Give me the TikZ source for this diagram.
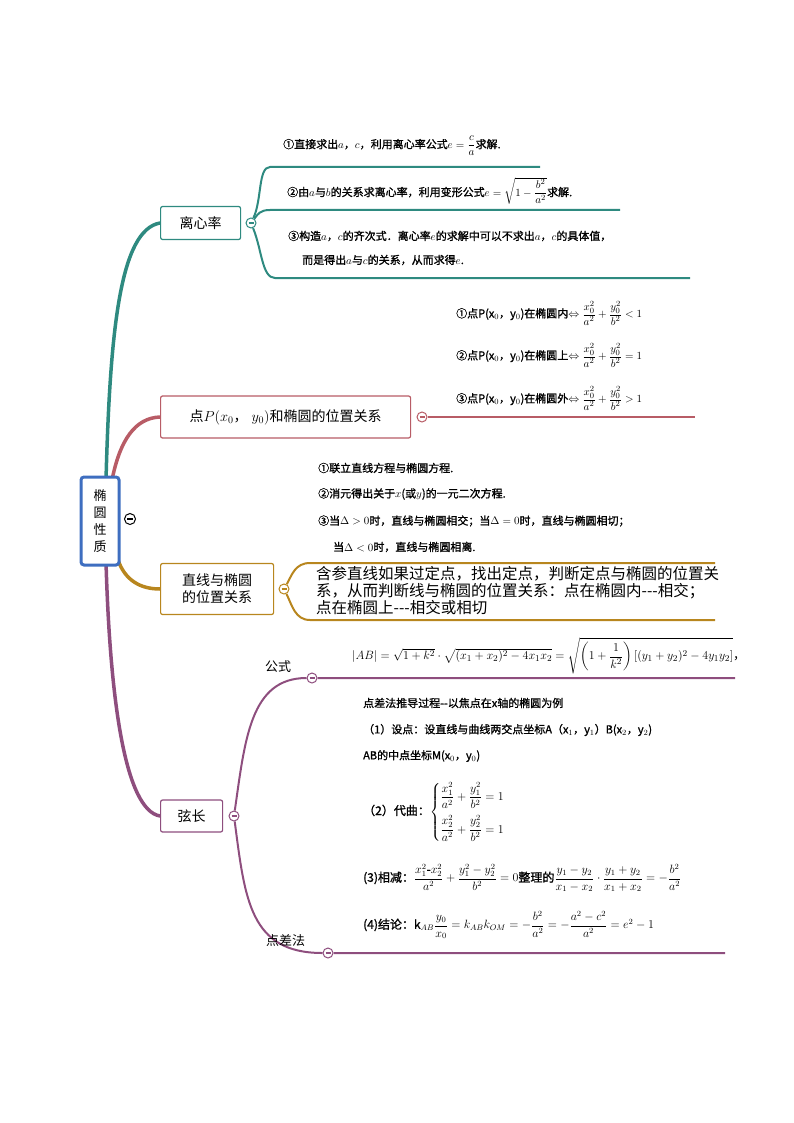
\documentclass[tikz,border=0pt]{standalone}
\usepackage{amsmath}
\usepackage{fontspec}
\setmainfont{Noto Sans CJK SC}
\newfontfamily\cjkb{Noto Sans CJK SC}[FakeBold=1.2]
\definecolor{teal1}{HTML}{2E8A80}
\definecolor{red1}{HTML}{B85C66}
\definecolor{gold1}{HTML}{B8861E}
\definecolor{purp1}{HTML}{8E4E7E}
\definecolor{blue1}{HTML}{3E6EC0}
\begin{document}
\begin{tikzpicture}[x=1pt,y=-1pt,
  box/.style={draw=#1,line width=1.2pt,rounded corners=2pt,fill=white,inner sep=4pt,font=\fontsize{14}{17}\selectfont,align=center},
  circ/.style={circle,draw=#1,line width=1pt,fill=white,minimum size=10pt,inner sep=0pt,
    path picture={\draw[#1,line width=1.2pt] ([xshift=2.5pt]path picture bounding box.west) -- ([xshift=-2.5pt]path picture bounding box.east);}},
  br/.style={draw=#1,line width=3.5pt,line cap=round},
  sb/.style={draw=#1,line width=2pt},
  it/.style={anchor=west,inner sep=0pt,font=\cjkb\fontsize{11}{13}\selectfont},
  pl/.style={anchor=west,inner sep=0pt,font=\fontsize{15.5}{18}\selectfont}]
\useasboundingbox (0,0) rectangle (794,1123);

\coordinate (r1) at (160,223);
\coordinate (r2) at (160,417);
\coordinate (r3) at (160,589);
\coordinate (r4) at (160,816);

\draw[br=teal1] (106,480) .. controls (110,330) and (120,230) .. (r1);
\draw[br=red1] (112,480) .. controls (120,440) and (135,418) .. (r2);
\draw[br=gold1] (118,560) .. controls (125,580) and (140,589) .. (r3);
\draw[br=purp1] (106,562) .. controls (110,700) and (125,810) .. (r4);

\node[draw=blue1,line width=3pt,rounded corners=3pt,fill=white,minimum width=38pt,minimum height=88pt,align=center,font=\fontsize{13}{17}\selectfont] (root) at (100,521) {椭\\圆\\性\\质};
\node[circle,draw=black,line width=1pt,minimum size=11pt,inner sep=0pt,
  path picture={\draw[line width=1.2pt] ([xshift=2.5pt]path picture bounding box.west) -- ([xshift=-2.5pt]path picture bounding box.east);}] (rc) at (130,519) {};

% 离心率
\node[box=teal1,anchor=west,minimum width=80pt,minimum height=33pt] (b1) at (r1) {离心率};
\node[circ=teal1] (c1) at (251,223) {};
\coordinate (l1a) at (270,167); \coordinate (l1b) at (540,167);
\coordinate (l2a) at (270,210); \coordinate (l2b) at (620,210);
\coordinate (l3a) at (275,278); \coordinate (l3b) at (690,278);
\draw[sb=teal1] (c1) .. controls (262,200) and (258,167) .. (l1a) -- (l1b);
\draw[sb=teal1] (c1) .. controls (258,214) and (260,210) .. (l2a) -- (l2b);
\draw[sb=teal1] (c1) .. controls (262,250) and (262,278) .. (l3a) -- (l3b);
\node[it] (t11) at (283,146) {①直接求出$a$，$c$，利用离心率公式$e=\dfrac{c}{a}$求解.};
\node[it] (t12) at (287,191) {②由$a$与$b$的关系求离心率，利用变形公式$e=\sqrt{1-\dfrac{b^2}{a^2}}$求解.};
\node[it] (t13) at (288,236) {③构造$a$，$c$的齐次式．离心率$e$的求解中可以不求出$a$，$c$的具体值，};
\node[it] (t14) at (302,260) {而是得出$a$与$c$的关系，从而求得$e$.};

% 点P
\node[box=red1,anchor=west,minimum width=250pt,minimum height=42pt] (b2) at (r2) {点$P(x_0$，$\;y_0)$和椭圆的位置关系};
\node[circ=red1] (c2) at (422,417) {};
\coordinate (l4) at (695,417);
\draw[sb=red1] (c2) -- (l4);
\node[it] (t21) at (456,313) {①点P(x$_0$，y$_0$)在椭圆内$\Leftrightarrow\dfrac{x_0^2}{a^2}+\dfrac{y_0^2}{b^2}<1$};
\node[it] (t22) at (456,355) {②点P(x$_0$，y$_0$)在椭圆上$\Leftrightarrow\dfrac{x_0^2}{a^2}+\dfrac{y_0^2}{b^2}=1$};
\node[it] (t23) at (456,398) {③点P(x$_0$，y$_0$)在椭圆外$\Leftrightarrow\dfrac{x_0^2}{a^2}+\dfrac{y_0^2}{b^2}>1$};

% 直线与椭圆
\node[it] (t31) at (318,468) {①联立直线方程与椭圆方程.};
\node[it] (t32) at (318,494) {②消元得出关于$x$(或$y$)的一元二次方程.};
\node[it] (t33) at (318,521) {③当$\Delta>0$时，直线与椭圆相交；当$\Delta=0$时，直线与椭圆相切；};
\node[it] (t34) at (333,547) {当$\Delta<0$时，直线与椭圆相离.};
\node[box=gold1,anchor=west,minimum width=113pt,minimum height=51pt,font=\fontsize{14}{17}\selectfont] (b3) at (r3) {直线与椭圆\\的位置关系};
\node[circ=gold1] (c3) at (284,589) {};
\coordinate (l5a) at (310,563); \coordinate (l5b) at (715,563);
\coordinate (l6a) at (310,620); \coordinate (l6b) at (715,620);
\draw[sb=gold1] (c3) .. controls (292,575) and (295,563) .. (l5a) -- (l5b);
\draw[sb=gold1] (c3) .. controls (292,605) and (295,620) .. (l6a) -- (l6b);
\node[pl] (t35) at (316,574) {含参直线如果过定点，找出定点，判断定点与椭圆的位置关};
\node[pl] (t36) at (316,591) {系，从而判断线与椭圆的位置关系：点在椭圆内{-}{-}{-}相交；};
\node[pl] (t37) at (316,608) {点在椭圆上{-}{-}{-}相交或相切};

% 弦长
\node[box=purp1,anchor=west,minimum width=62pt,minimum height=32pt] (b4) at (r4) {弦长};
\node[circ=purp1] (c4) at (234,816) {};
\node[circ=purp1] (c5) at (312,678) {};
\node[circ=purp1] (c6) at (328,953) {};
\coordinate (l7) at (735,678);
\coordinate (l8) at (725,953);
\draw[sb=purp1] (c4) .. controls (245,740) and (250,678) .. (c5) -- (l7);
\draw[sb=purp1] (c4) .. controls (245,900) and (250,953) .. (c6) -- (l8);
\node[anchor=west,inner sep=0pt,font=\fontsize{13}{15}\selectfont] (f1) at (265,667) {公式};
\node[anchor=west,inner sep=0pt,font=\fontsize{13}{15}\selectfont] (f2) at (266,941) {点差法};
\node[anchor=west,inner sep=0pt,font=\fontsize{12.5}{14}\selectfont] (m0) at (352,656) {$|AB|=\sqrt{1+k^2}\cdot\sqrt{(x_1+x_2)^2-4x_1x_2}=\sqrt{\left(1+\dfrac{1}{k^2}\right)[(y_1+y_2)^2-4y_1y_2]}$，};
\node[it] (m1) at (363,703) {点差法推导过程{-}{-}以焦点在x轴的椭圆为例};
\node[it] (m2) at (363,730) {（1）设点：设直线与曲线两交点坐标A（x$_1$，y$_1$）B(x$_2$，y$_2$)};
\node[it] (m3) at (363,756) {AB的中点坐标M(x$_0$，y$_0$)};
\node[it,font=\cjkb\fontsize{12}{14}\selectfont] (m4) at (363,812) {（2）代曲：$\begin{cases}\dfrac{x_1^2}{a^2}+\dfrac{y_1^2}{b^2}=1\\[10pt]\dfrac{x_2^2}{a^2}+\dfrac{y_2^2}{b^2}=1\end{cases}$};
\node[it,font=\cjkb\fontsize{12}{14}\selectfont] (m5) at (363,878) {(3)相减：$\dfrac{x_1^2\text{-}x_2^2}{a^2}+\dfrac{y_1^2-y_2^2}{b^2}=0$整理的$\dfrac{y_1-y_2}{x_1-x_2}\cdot\dfrac{y_1+y_2}{x_1+x_2}=-\dfrac{b^2}{a^2}$};
\node[it,font=\cjkb\fontsize{12}{14}\selectfont] (m6) at (363,925) {(4)结论：k$_{AB}\dfrac{y_0}{x_0}=k_{AB}k_{OM}=-\dfrac{b^2}{a^2}=-\dfrac{a^2-c^2}{a^2}=e^2-1$};
\end{tikzpicture}
\end{document}
